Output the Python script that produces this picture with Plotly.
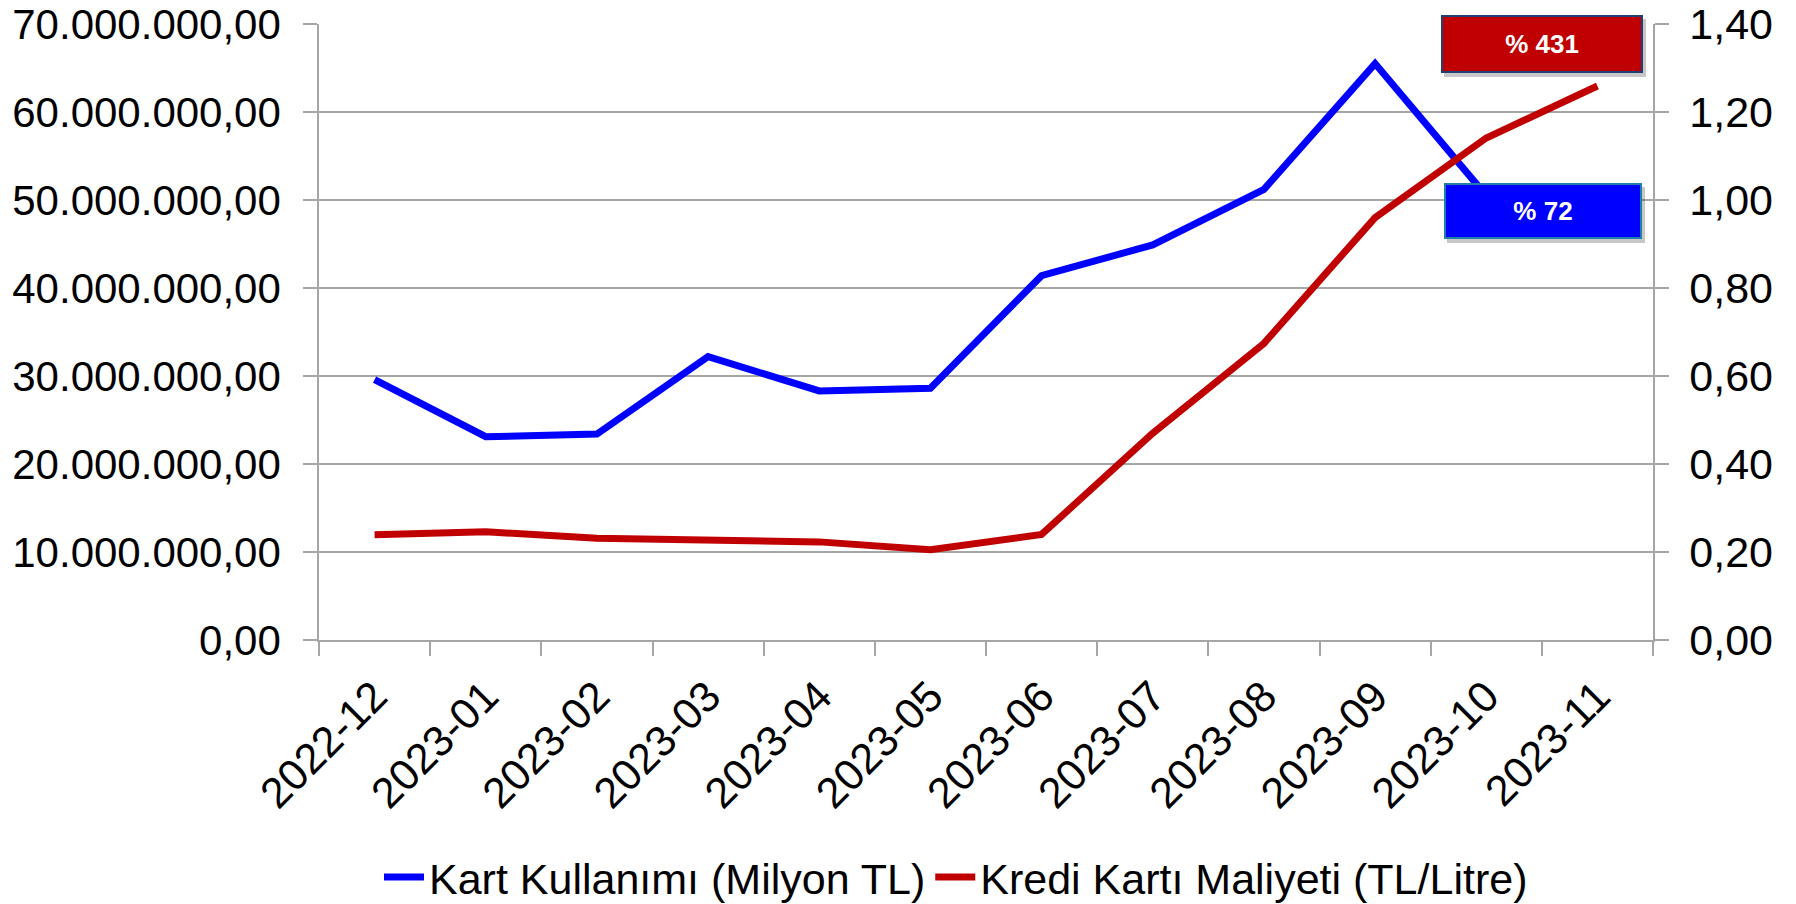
import plotly.graph_objects as go

months = ["2022-12", "2023-01", "2023-02", "2023-03", "2023-04", "2023-05",
          "2023-06", "2023-07", "2023-08", "2023-09", "2023-10", "2023-11"]
kart_kullanimi = [29.6e6, 23.1e6, 23.4e6, 32.2e6, 28.3e6, 28.6e6,
                  41.4e6, 44.9e6, 51.2e6, 65.5e6, 50.5e6, 50.9e6]
kredi_maliyeti = [0.239, 0.246, 0.231, 0.226, 0.223, 0.205,
                  0.240, 0.470, 0.674, 0.960, 1.141, 1.259]
left_ticks = [0, 10e6, 20e6, 30e6, 40e6, 50e6, 60e6, 70e6]
right_ticks = [0, 0.2, 0.4, 0.6, 0.8, 1.0, 1.2, 1.4]
label_red = "% 431"
label_blue = "% 72"

FONT = "Liberation Sans, Arial, sans-serif"
GRID = "#A6A6A6"
FS = 43

fig = go.Figure()
fig.add_trace(go.Scatter(x=months, y=kart_kullanimi, mode="lines",
                         name="Kart Kullanımı (Milyon TL)",
                         line=dict(color="#0000FF", width=7)))
fig.add_trace(go.Scatter(x=months, y=kredi_maliyeti, mode="lines",
                         name="Kredi Kartı Maliyeti (TL/Litre)",
                         line=dict(color="#C00000", width=7), yaxis="y2"))

W, H = 1796, 904
# plot area in page pixel coordinates
L, R, T, B = 319, 1653, 24, 640
pw, ph = R - L, B - T

def px(x):
    return (x - L) / pw

def py(y):
    return (B - y) / ph

shapes = []
for (x0, y0, x1, y1) in [(1441, 15, 1643, 73), (1444, 183, 1642, 239)]:
    shapes.append(dict(type="rect", xref="paper", yref="paper",
                       x0=px(x0 + 3), x1=px(x1 + 3), y0=py(y1 + 4), y1=py(y0 + 4),
                       fillcolor="rgba(0,0,0,0.22)", line=dict(width=0), layer="above"))

annotations = [
    dict(text="<b>" + label_red + "</b>", xref="paper", yref="paper",
         x=px(1542), y=py(44), xanchor="center", yanchor="middle", showarrow=False,
         font=dict(family=FONT, size=26, color="white"), bgcolor="#C00000",
         bordercolor="#1F3F75", borderwidth=2, borderpad=1, width=196, height=52),
    dict(text="<b>" + label_blue + "</b>", xref="paper", yref="paper",
         x=px(1543), y=py(211), xanchor="center", yanchor="middle", showarrow=False,
         font=dict(family=FONT, size=26, color="white"), bgcolor="#0000FF",
         bordercolor="#1F7FA8", borderwidth=2, borderpad=1, width=192, height=50),
]

fig.update_layout(
    width=W, height=H,
    margin=dict(l=L, r=W - R, t=T, b=H - B, pad=0, autoexpand=False),
    paper_bgcolor="white", plot_bgcolor="white",
    separators=",.",
    font=dict(family=FONT, size=FS, color="black"),
    showlegend=True,
    legend=dict(orientation="h", x=px(956), y=py(877), xanchor="center", yanchor="middle",
                font=dict(family=FONT, size=FS, color="black"), itemwidth=40,
                bgcolor="rgba(0,0,0,0)", tracegroupgap=0),
    xaxis=dict(type="category", range=[-0.5, len(months) - 0.5], tickangle=-45,
               ticks="outside", tickson="boundaries", automargin=False,
               ticklabelstandoff=12, ticklabeloverflow="allow",
               ticklen=14, tickcolor=GRID, tickwidth=1.5, showline=True, linecolor=GRID,
               linewidth=1.5, showgrid=False, tickfont=dict(family=FONT, size=FS, color="black")),
    yaxis=dict(range=[0, 70e6], tickvals=left_ticks, tickformat=",.2f", ticks="outside",
               automargin=False, ticklabelstandoff=14, ticklabeloverflow="allow",
               ticklen=14, tickcolor=GRID, tickwidth=1.5, showline=True, linecolor=GRID,
               linewidth=1.5, showgrid=True, gridcolor=GRID, gridwidth=1.5, zeroline=False,
               tickfont=dict(family=FONT, size=42, color="black")),
    yaxis2=dict(range=[0, 1.4], tickvals=right_ticks, tickformat=".2f", overlaying="y",
                side="right", ticks="outside", ticklen=14, tickcolor=GRID, tickwidth=1.5,
                automargin=False, ticklabelstandoff=12, ticklabeloverflow="allow",
                showline=True, linecolor=GRID, linewidth=1.5, showgrid=False, zeroline=False,
                tickfont=dict(family=FONT, size=FS, color="black")),
    shapes=shapes,
    annotations=annotations,
)

fig.write_html("out.html", config={"displayModeBar": False},
               post_script="document.body.style.margin='0';document.body.style.overflow='hidden';")
